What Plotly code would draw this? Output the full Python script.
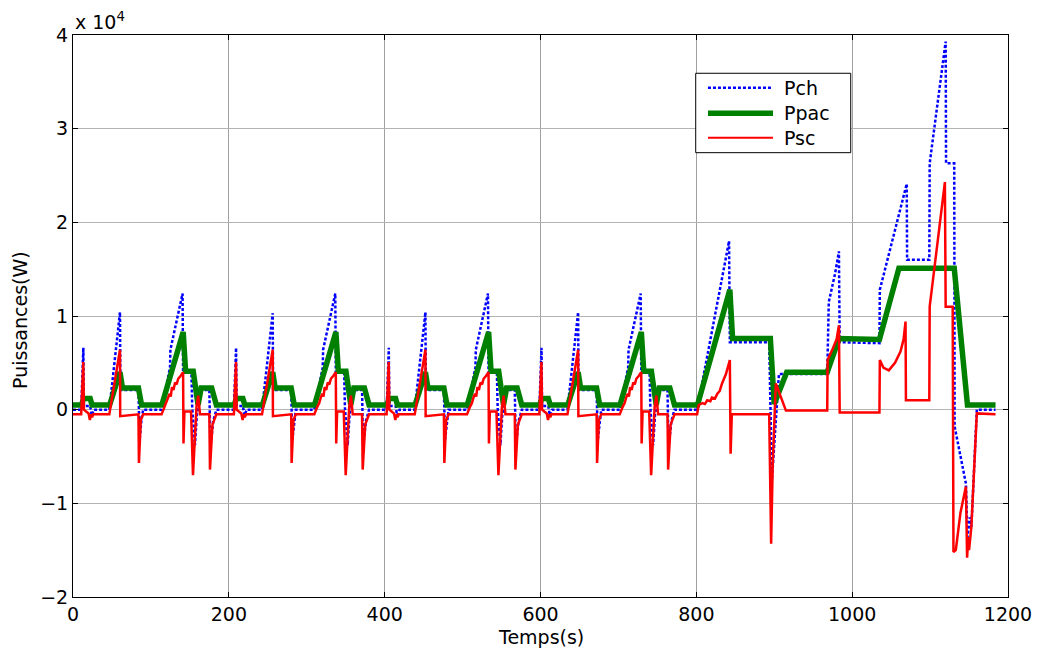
import plotly.graph_objects as go

# ---------------- data (power values in units of 10^4 W, time in s) ----------------
# Ppac : fuel-cell power (green, thick)
ppac_t = [
    0, 11, 13.5, 22, 24.5, 47, 60.3, 63.5, 84, 88, 114, 141.4, 144.5, 154.3, 160.5, 164.5, 178, 184,
    207, 209.5, 218, 220.5, 243, 256.3, 259.5, 280, 284, 310, 337.4, 340.5, 350.3, 356.5, 360.5, 374, 380,
    403, 405.5, 414, 416.5, 439, 452.3, 455.5, 476, 480, 506, 533.4, 536.5, 546.3, 552.5, 556.5, 570, 576,
    599, 601.5, 610, 612.5, 635, 648.3, 651.5, 672, 676, 702, 729.4, 732.5, 742.3, 748.5, 752.5, 766, 772,
    801.5, 843, 846.5, 895, 900, 916, 968, 983, 1035, 1060, 1131, 1148, 1184,
]
ppac_v = [
    0.05, 0.05, 0.12, 0.12, 0.05, 0.05, 0.40, 0.23, 0.23, 0.05, 0.05, 0.83, 0.41, 0.41, 0.05, 0.23, 0.23, 0.05,
    0.05, 0.12, 0.12, 0.05, 0.05, 0.40, 0.23, 0.23, 0.05, 0.05, 0.83, 0.41, 0.41, 0.05, 0.23, 0.23, 0.05,
    0.05, 0.12, 0.12, 0.05, 0.05, 0.40, 0.23, 0.23, 0.05, 0.05, 0.83, 0.41, 0.41, 0.05, 0.23, 0.23, 0.05,
    0.05, 0.12, 0.12, 0.05, 0.05, 0.40, 0.23, 0.23, 0.05, 0.05, 0.83, 0.41, 0.41, 0.05, 0.23, 0.23, 0.05,
    0.05, 1.28, 0.76, 0.76, 0.06, 0.40, 0.40, 0.76, 0.75, 1.51, 1.51, 0.05, 0.05,
]

# Pch : load power (blue, dotted)
pch_t = [
    0, 10.5, 13.3, 14, 22, 24, 27, 46.6, 60.3, 60.8, 84, 85.5, 88, 90, 113.7, 124.5, 125, 140.6, 141.3, 152,
    153, 156.5, 159, 162, 164.5, 175, 176.3, 180, 184,
    206.5, 209.3, 210, 218, 220, 223, 242.6, 256.3, 256.8, 280, 281.5, 284, 286, 309.7, 320.5, 321, 336.6,
    337.3, 348, 349, 352.5, 355, 358, 360.5, 371, 372.3, 376, 380,
    402.5, 405.3, 406, 414, 416, 419, 438.6, 452.3, 452.8, 476, 477.5, 480, 482, 505.7, 516.5, 517, 532.6,
    533.3, 544, 545, 548.5, 551, 554, 556.5, 567, 568.3, 572, 576,
    598.5, 601.3, 602, 610, 612, 615, 634.6, 648.3, 648.8, 672, 673.5, 676, 678, 701.7, 712.5, 713, 728.6,
    729.3, 740, 741, 744.5, 747, 750, 752.5, 763, 764.3, 768, 772,
    801, 842, 843, 893.5, 897, 906, 968, 968.5, 970, 974, 978, 983, 984, 1035, 1035.5, 1070, 1070.5, 1099,
    1099.5, 1120, 1120.5, 1131, 1131.5, 1146, 1148, 1151, 1153, 1160, 1184,
]
pch_v = [
    0, 0, 0.66, 0.04, 0.04, -0.06, 0, 0, 1.04, 0.21, 0.21, -0.32, -0.10, 0, 0, 0.45, 0.64, 1.24, 0.40, 0.40,
    0.02, -0.38, -0.05, 0.10, 0.21, 0.21, -0.40, -0.12, 0,
    0, 0.66, 0.04, 0.04, -0.06, 0, 0, 1.03, 0.21, 0.21, -0.32, -0.10, 0, 0, 0.45, 0.64, 1.24,
    0.40, 0.40, 0.02, -0.38, -0.05, 0.10, 0.21, 0.21, -0.40, -0.12, 0,
    0, 0.66, 0.04, 0.04, -0.06, 0, 0, 1.04, 0.21, 0.21, -0.32, -0.10, 0, 0, 0.45, 0.64, 1.24,
    0.40, 0.40, 0.02, -0.38, -0.05, 0.10, 0.21, 0.21, -0.40, -0.12, 0,
    0, 0.66, 0.04, 0.04, -0.06, 0, 0, 1.04, 0.21, 0.21, -0.32, -0.10, 0, 0, 0.45, 0.64, 1.24,
    0.40, 0.40, 0.02, -0.38, -0.05, 0.10, 0.21, 0.21, -0.40, -0.12, 0,
    0, 1.80, 0.72, 0.72, -0.75, 0.38, 0.38, 0.74, 1.15, 1.30, 1.45, 1.69, 0.72, 0.71, 1.28, 2.41, 1.60, 1.60,
    2.63, 3.93, 2.63, 2.63, -0.18, -0.79, -1.36, -1.15, -1.25, 0, 0,
]

# Psc : supercapacitor power (red)
psc_t = [
    0, 10.5, 13.2, 14, 20, 21.7, 23, 24.5, 26, 46.6, 60.3, 60.6, 84, 84.6, 87, 90, 113.7, 117, 120, 122,
    124, 125.5, 127, 129, 131, 133, 135, 138, 141.3, 141.8, 143, 151.5, 154, 156.5, 158.5, 160.7, 163, 175,
    175.8, 179, 184,
    206.5, 209.2, 210, 216, 217.7, 219, 220.5, 222, 242.6, 256.3, 256.6, 280, 280.6, 283, 286, 309.7, 313,
    316, 318, 320, 321.5, 323, 325, 327, 329, 331, 334, 337.3, 337.8, 339, 347.5, 350, 352.5, 354.5, 356.7,
    359, 371, 371.8, 375, 380,
    402.5, 405.2, 406, 412, 413.7, 415, 416.5, 418, 438.6, 452.3, 452.6, 476, 476.6, 479, 482, 505.7, 509,
    512, 514, 516, 517.5, 519, 521, 523, 525, 527, 530, 533.3, 533.8, 535, 543.5, 546, 548.5, 550.5, 552.7,
    555, 567, 567.8, 571, 576,
    598.5, 601.2, 602, 608, 609.7, 611, 612.5, 614, 634.6, 648.3, 648.6, 672, 672.6, 675, 678, 701.7, 705,
    708, 710, 712, 713.5, 715, 717, 719, 721, 723, 726, 729.3, 729.8, 731, 739.5, 742, 744.5, 746.5, 748.7,
    751, 763, 763.8, 767, 772,
    801, 803, 808, 811, 814, 818, 820, 824, 827, 830, 833, 836, 838, 843, 844, 845.5, 893.5, 896, 898, 902,
    915, 968, 968.5, 975, 980, 983, 984, 1035, 1035.5, 1040, 1047, 1055, 1062, 1066, 1068.5, 1069, 1099,
    1099.5, 1105, 1112, 1119, 1120, 1129, 1130, 1133, 1139, 1146, 1147.5, 1149, 1150, 1153, 1160, 1184,
]
psc_v = [
    -0.05, -0.05, 0.51, 0.0, -0.04, -0.11, -0.05, -0.08, -0.05, -0.05, 0.64, -0.07, -0.05, -0.57, -0.11,
    -0.05, -0.05, 0.02, 0.07, 0.13, 0.17, 0.14, 0.24, 0.21, 0.29, 0.27, 0.33, 0.36, 0.40, -0.36, -0.02,
    -0.02, -0.70, -0.29, 0.03, 0.15, -0.05, -0.05, -0.64, -0.16, -0.05,
    -0.05, 0.51, 0.0, -0.04, -0.11, -0.05, -0.08, -0.05, -0.05, 0.64, -0.07, -0.05, -0.57, -0.11,
    -0.05, -0.05, 0.02, 0.07, 0.13, 0.17, 0.14, 0.24, 0.21, 0.29, 0.27, 0.33, 0.36, 0.40, -0.36, -0.02,
    -0.02, -0.70, -0.29, 0.03, 0.15, -0.05, -0.05, -0.64, -0.16, -0.05,
    -0.05, 0.51, 0.0, -0.04, -0.11, -0.05, -0.08, -0.05, -0.05, 0.64, -0.07, -0.05, -0.57, -0.11,
    -0.05, -0.05, 0.02, 0.07, 0.13, 0.17, 0.14, 0.24, 0.21, 0.29, 0.27, 0.33, 0.36, 0.40, -0.36, -0.02,
    -0.02, -0.70, -0.29, 0.03, 0.15, -0.05, -0.05, -0.64, -0.16, -0.05,
    -0.05, 0.51, 0.0, -0.04, -0.11, -0.05, -0.08, -0.05, -0.05, 0.64, -0.07, -0.05, -0.57, -0.11,
    -0.05, -0.05, 0.02, 0.07, 0.13, 0.17, 0.14, 0.24, 0.21, 0.29, 0.27, 0.33, 0.36, 0.40, -0.36, -0.02,
    -0.02, -0.70, -0.29, 0.03, 0.15, -0.05, -0.05, -0.64, -0.16, -0.05,
    -0.05, 0.05, 0.07, 0.06, 0.10, 0.09, 0.13, 0.12, 0.17, 0.20, 0.28, 0.33, 0.38, 0.53, -0.47, -0.05,
    -0.05, -1.43, -0.60, 0.28, -0.01, -0.01, 0.53, 0.65, 0.75, 0.90, -0.03, -0.03, 0.53, 0.45, 0.42, 0.50,
    0.62, 0.75, 0.94, 0.10, 0.10, 1.10, 1.50, 1.95, 2.43, 1.10, 1.10, -1.52, -1.50, -1.10, -0.82, -1.58,
    -1.36, -1.50, -1.25, -0.04, -0.05,
]

x_ticks = [0, 200, 400, 600, 800, 1000, 1200]
y_ticks = [-2, -1, 0, 1, 2, 3, 4]
series_names = ["Pch", "Ppac", "Psc"]
series_colors = ["#0000ff", "#008000", "#ff0000"]

FONT = "DejaVu Sans"
FS = 19

fig = go.Figure()
fig.add_trace(go.Scatter(x=pch_t, y=pch_v, mode="lines", name=series_names[0],
                         line=dict(color=series_colors[0], width=2.5, dash="3px,2px"),
                         showlegend=False))
fig.add_trace(go.Scatter(x=ppac_t, y=ppac_v, mode="lines", name=series_names[1],
                         line=dict(color=series_colors[1], width=5.5),
                         showlegend=False))
fig.add_trace(go.Scatter(x=psc_t, y=psc_v, mode="lines", name=series_names[2],
                         line=dict(color=series_colors[2], width=2.5),
                         showlegend=False))

axis_common = dict(
    showline=True, linecolor="black", linewidth=1, mirror="ticks",
    ticks="inside", ticklen=5, tickcolor="black", tickwidth=1,
    tickfont=dict(family=FONT, size=FS, color="black"),
    zeroline=False, showgrid=True, gridwidth=1,
)

# the page body adds ~8px offset; margins are chosen so the plot area lands at
# x 73..1008, y 35..597 in the browser window
fig.update_layout(
    width=1044, height=650, autosize=False,
    margin=dict(l=65, r=44, t=27, b=61),
    paper_bgcolor="white", plot_bgcolor="white",
    xaxis=dict(range=[0, 1200], tickvals=x_ticks, gridcolor="#a0a0a0", **axis_common),
    yaxis=dict(range=[-2, 4], tickvals=y_ticks, gridcolor="#b4b4b4", **axis_common),
    font=dict(family=FONT, size=FS, color="black"),
)

# legend (drawn manually to match the boxed MATLAB legend)
lx0, lx1, ly0, ly1 = 0.666, 0.8318, 0.7906, 0.9319
fig.add_shape(type="rect", xref="paper", yref="paper", x0=lx0, x1=lx1, y0=ly0, y1=ly1,
              line=dict(color="black", width=1), fillcolor="white", layer="above")
row_y = [0.906, 0.8606, 0.8173]
line_widths = [2.5, 5.5, 2.0]
line_dash = ["3px,2px", "solid", "solid"]
for i in range(3):
    fig.add_shape(type="line", xref="paper", yref="paper", x0=0.6791, x1=0.7487,
                  y0=row_y[i], y1=row_y[i],
                  line=dict(color=series_colors[i], width=line_widths[i], dash=line_dash[i]))
    fig.add_annotation(x=0.7583, y=row_y[i], xref="paper", yref="paper", text=series_names[i],
                       showarrow=False, xanchor="left", yanchor="middle",
                       font=dict(family=FONT, size=FS, color="black"))

# exponent label, axis titles
fig.add_annotation(x=0, y=1.0, xref="paper", yref="paper", text="x 10<sup>4</sup>",
                   showarrow=False, xanchor="left", yanchor="bottom",
                   font=dict(family=FONT, size=FS, color="black"))
fig.add_annotation(x=0.5, y=-0.071, xref="paper", yref="paper", text="Temps(s)",
                   showarrow=False, xanchor="center", yanchor="middle",
                   font=dict(family=FONT, size=FS, color="black"))
fig.add_annotation(x=-0.0567, y=0.493, xref="paper", yref="paper", text="Puissances(W)",
                   showarrow=False, xanchor="center", yanchor="middle", textangle=-90,
                   font=dict(family=FONT, size=FS, color="black"))

fig.write_html("out.html")
